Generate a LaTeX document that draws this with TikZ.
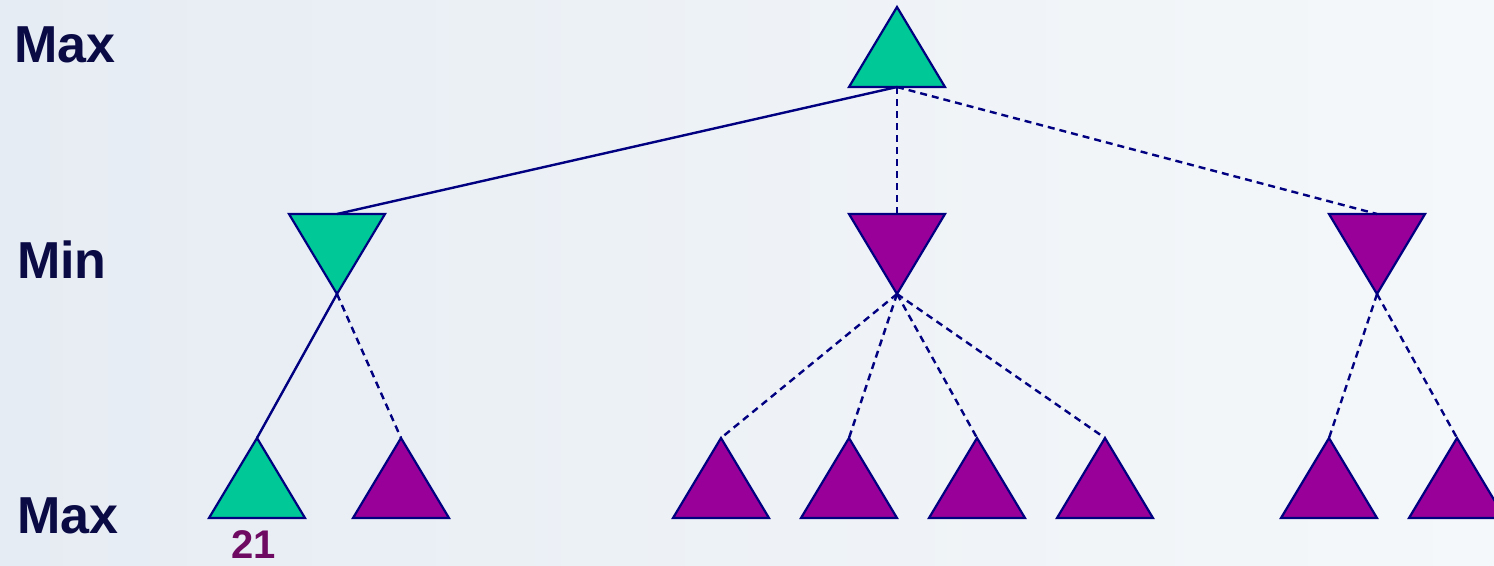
\documentclass[tikz,border=0pt]{standalone}
\usepackage{fontspec}
\setmainfont{Liberation Sans}
\definecolor{navy}{HTML}{000080}
\definecolor{tgreen}{HTML}{00C896}
\definecolor{tpurple}{HTML}{990099}
\definecolor{labelc}{HTML}{0A0A45}
\definecolor{numc}{HTML}{6E0A62}
\definecolor{bgl}{HTML}{E6ECF3}
\definecolor{bgm}{HTML}{F0F4F8}
\definecolor{bgr}{HTML}{F5F8FA}
\tikzset{
  tri/.style={draw=navy, line width=2.2pt, line join=miter},
  solidedge/.style={draw=navy, line width=2.4pt},
  dashededge/.style={draw=navy, line width=2.4pt, dash pattern=on 7pt off 5pt},
  lvl/.style={text=labelc, font=\bfseries\fontsize{52}{60}\selectfont, inner sep=0pt, anchor=base west},
  num/.style={text=numc, font=\bfseries\fontsize{40}{46}\selectfont, inner sep=0pt, anchor=base},
  maxtri/.pic={
    \path[tri, fill=#1] (0,0) -- (48,80) -- (-48,80) -- cycle;
    \coordinate (-top) at (0,0);
    \coordinate (-bot) at (0,80);
  },
  mintri/.pic={
    \path[tri, fill=#1] (-48,0) -- (48,0) -- (0,80) -- cycle;
    \coordinate (-top) at (0,0);
    \coordinate (-bot) at (0,80);
  }
}
\begin{document}
\begin{tikzpicture}[x=1pt,y=-1pt]
\useasboundingbox (0,0) rectangle (1494,565);
\shade[left color=bgl, middle color=bgm, right color=bgr] (0,0) rectangle (1494,565);
% labels
\node[lvl] (l1) at (14,62) {Max};
\node[lvl] (l2) at (17,278) {Min};
\node[lvl] (l3) at (17,533) {Max};
% triangles
\pic (r) at (897,7) {maxtri=tgreen};
\pic (ma) at (337,214) {mintri=tgreen};
\pic (mb) at (897,214) {mintri=tpurple};
\pic (mc) at (1377,214) {mintri=tpurple};
\pic (a1) at (257,438) {maxtri=tgreen};
\pic (a2) at (401,438) {maxtri=tpurple};
\pic (b1) at (721,438) {maxtri=tpurple};
\pic (b2) at (849,438) {maxtri=tpurple};
\pic (b3) at (977,438) {maxtri=tpurple};
\pic (b4) at (1105,438) {maxtri=tpurple};
\pic (c1) at (1329,438) {maxtri=tpurple};
\pic (c2) at (1457,438) {maxtri=tpurple};
% connectors
\draw[solidedge] (r-bot) -- (ma-top);
\draw[dashededge] (r-bot) -- (mb-top);
\draw[dashededge] (r-bot) -- (mc-top);
\draw[solidedge] (ma-bot) -- (a1-top);
\draw[dashededge] (ma-bot) -- (a2-top);
\foreach \t in {b1,b2,b3,b4} \draw[dashededge] (mb-bot) -- (\t-top);
\foreach \t in {c1,c2} \draw[dashededge] (mc-bot) -- (\t-top);
% value
\node[num] (v21) at (254,558) {21};
\end{tikzpicture}
\end{document}
